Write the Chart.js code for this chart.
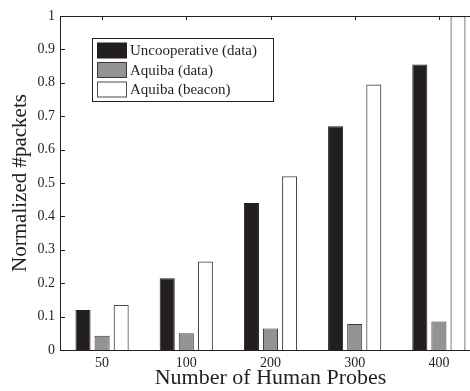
<!DOCTYPE html>
<html>
<head>
<meta charset="utf-8">
<script src="https://cdn.jsdelivr.net/npm/chart.js@4/dist/chart.umd.min.js"></script>
<style>
  html, body { margin: 0; padding: 0; background: #fff; overflow: hidden; }
  #wrap { width: 490px; height: 391px; }
</style>
</head>
<body>
<div id="wrap"><canvas id="chart" width="490" height="391"></canvas></div>
<script>
// categories and series
const probes = ['50', '100', '200', '300', '400'];
const uncoopData = [0.12, 0.215, 0.44, 0.67, 0.855];
const aquibaData = [0.043, 0.05, 0.064, 0.078, 0.085];
const aquibaBeacon = [0.135, 0.265, 0.52, 0.795, 1.0];
const yTicks = [0, 0.1, 0.2, 0.3, 0.4, 0.5, 0.6, 0.7, 0.8, 0.9, 1];

const serif = "'Liberation Serif', 'Times New Roman', serif";
const ink = '#231f20';

// frame box with inward ticks, like a matlab axes
const framePlugin = {
    id: 'frame',
    afterDatasetsDraw(chart) {
        const { ctx, chartArea: a, scales } = chart;
        ctx.save();
        ctx.strokeStyle = ink;
        ctx.lineWidth = 1;
        ctx.beginPath();
        ctx.rect(Math.round(a.left) + 0.5, Math.round(a.top) + 0.5,
                 Math.round(a.right - a.left), Math.round(a.bottom - a.top));
        ctx.stroke();

        ctx.beginPath();
        yTicks.forEach(v => {
            const y = Math.round(scales.y.getPixelForValue(v)) + 0.5;
            ctx.moveTo(a.left, y);
            ctx.lineTo(a.left + 5, y);
        });
        probes.forEach((p, i) => {
            const x = Math.round(scales.x.getPixelForValue(i)) + 0.5;
            ctx.moveTo(x, a.top);
            ctx.lineTo(x, a.top + 4);
        });
        ctx.stroke();
        ctx.restore();
    }
};

// legend box drawn inside the plot area
const legendPlugin = {
    id: 'boxLegend',
    afterDraw(chart) {
        const { ctx } = chart;
        const x0 = 92.5, y0 = 38.5, w = 181, h = 63;
        ctx.save();
        ctx.fillStyle = '#fff';
        ctx.fillRect(x0, y0, w, h);
        ctx.strokeStyle = ink;
        ctx.lineWidth = 1;
        ctx.strokeRect(x0, y0, w, h);
        ctx.font = '15px ' + serif;
        ctx.textBaseline = 'middle';
        chart.data.datasets.forEach((ds, i) => {
            const cy = 50.5 + i * 19.5;
            ctx.fillStyle = ds.backgroundColor;
            ctx.fillRect(97.5, cy - 7.5, 29, 15);
            ctx.strokeStyle = ds.borderColor;
            ctx.lineWidth = 1;
            ctx.strokeRect(97.5, cy - 7.5, 29, 15);
            ctx.fillStyle = ink;
            ctx.fillText(ds.label, 130, cy + 1);
        });
        ctx.restore();
    }
};

new Chart(document.getElementById('chart'), {
    type: 'bar',
    data: {
        labels: probes,
        datasets: [
            { label: 'Uncooperative (data)', data: uncoopData,
              backgroundColor: '#231f20', borderColor: '#231f20', borderWidth: 1 },
            { label: 'Aquiba (data)', data: aquibaData,
              backgroundColor: '#939396', borderColor: '#3a3a3a', borderWidth: 1 },
            { label: 'Aquiba (beacon)', data: aquibaBeacon,
              backgroundColor: '#ffffff', borderColor: '#4a4a4a', borderWidth: 1.2 }
        ]
    },
    options: {
        responsive: false,
        animation: false,
        layout: { padding: { top: 16, right: 9, left: 0, bottom: 0 } },
        datasets: { bar: { categoryPercentage: 0.68, barPercentage: 0.79 } },
        plugins: { legend: { display: false }, tooltip: { enabled: false } },
        scales: {
            x: {
                offset: true,
                grid: { display: false, drawTicks: false },
                border: { display: false },
                ticks: { color: ink, font: { family: serif, size: 14 }, padding: 5, maxRotation: 0 },
                title: { display: true, text: 'Number of Human Probes', color: ink,
                         font: { family: serif, size: 22 }, padding: { top: 0, bottom: 0 } },
                afterFit(scale) { scale.height = 41; }
            },
            y: {
                min: 0, max: 1,
                afterBuildTicks(scale) { scale.ticks = yTicks.map(v => ({ value: v })); },
                grid: { display: false, drawTicks: false },
                border: { display: false },
                ticks: { color: ink, font: { family: serif, size: 14 }, padding: 5,
                         callback: v => String(v) },
                title: { display: true, text: 'Normalized #packets', color: ink,
                         font: { family: serif, size: 21 }, padding: { top: 8, bottom: 0 } },
                afterFit(scale) { scale.width = 60; }
            }
        }
    },
    plugins: [framePlugin, legendPlugin]
});
</script>
</body>
</html>
